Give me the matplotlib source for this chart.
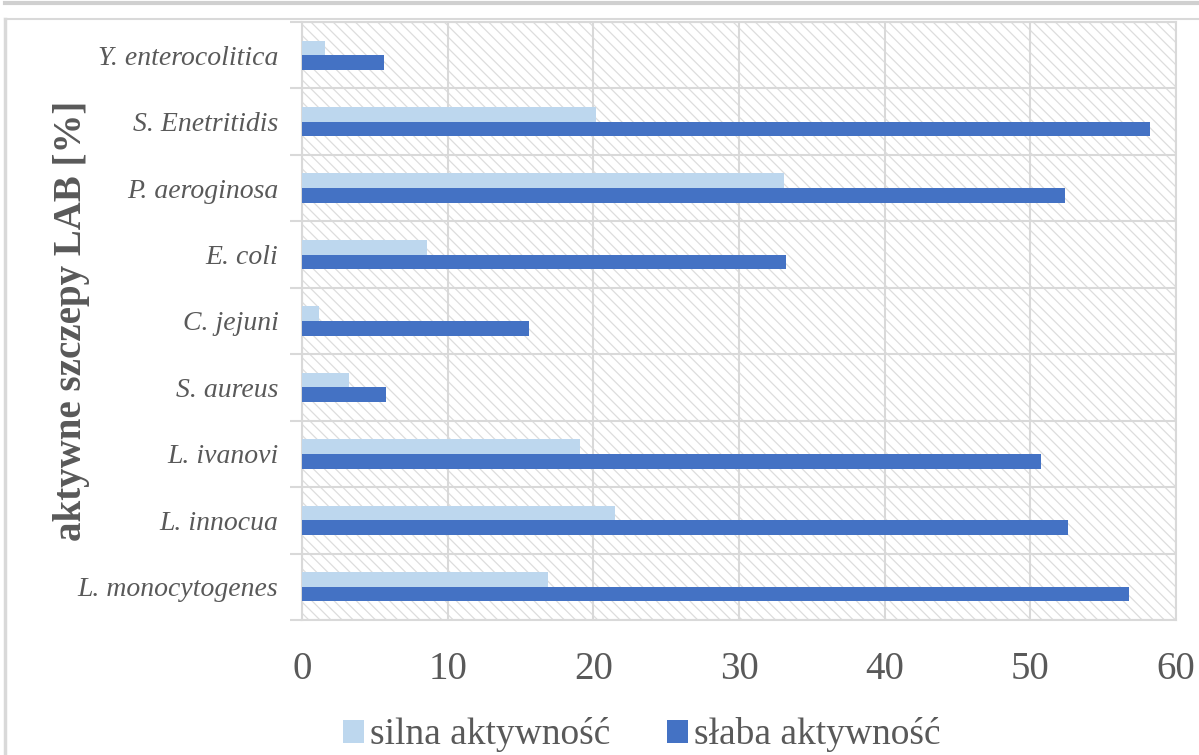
import matplotlib.pyplot as plt
from matplotlib.patches import Rectangle
from matplotlib.lines import Line2D
import numpy as np

# dane (od dolu do gory, jak w Excelu)
szczepy = ['L. monocytogenes', 'L. innocua', 'L. ivanovi', 'S. aureus', 'C. jejuni',
           'E. coli', 'P. aeroginosa', 'S. Enetritidis', 'Y. enterocolitica']
silna = [16.9, 21.5, 19.1, 3.2, 1.2, 8.6, 33.1, 20.2, 1.6]
slaba = [56.8, 52.6, 50.7, 5.8, 15.6, 33.2, 52.4, 58.2, 5.6]
os_x = [0, 10, 20, 30, 40, 50, 60]

jasny = '#BDD7EE'
ciemny = '#4472C4'
szary_tekst = '#595959'
siatka = '#D9D9D9'

plt.rcParams['font.family'] = 'serif'
plt.rcParams['font.serif'] = ['Liberation Serif', 'DejaVu Serif']
plt.rcParams['hatch.linewidth'] = 0.9

fig = plt.figure(figsize=(11.99, 7.55), dpi=100)
ax = fig.add_axes([302 / 1199, 135 / 755, 874 / 1199, 598 / 755])

# ramka wykresu
fig.add_artist(Line2D([0.004, 1.0], [752 / 755, 752 / 755], color='#D0D0D0', lw=3, transform=fig.transFigure))
fig.add_artist(Line2D([5 / 1199, 1.0], [736 / 755, 736 / 755], color='#D9D9D9', lw=1.5, transform=fig.transFigure))
fig.add_artist(Line2D([5 / 1199, 5 / 1199], [0, 736 / 755], color='#D9D9D9', lw=2.5, transform=fig.transFigure))

# tlo w paski
tlo = Rectangle((0, 0), 1, 1, transform=ax.transAxes, facecolor='white',
                edgecolor='#DDDDDD', hatch='\\\\\\', linewidth=0, zorder=0)
ax.add_patch(tlo)
ax.set_facecolor('none')

y = np.arange(len(szczepy))
h = 0.22
ax.barh(y + h / 2, silna, height=h, color=jasny, label='silna aktywność', zorder=3)
ax.barh(y - h / 2, slaba, height=h, color=ciemny, label='słaba aktywność', zorder=3)

ax.set_xlim(0, 60)
ax.set_ylim(-0.5, len(szczepy) - 0.5)
ax.set_xticks(os_x)
ax.set_yticks(y)
ax.set_yticklabels(szczepy, fontstyle='italic', fontsize=20, color=szary_tekst)
ax.set_yticks(np.arange(-0.5, len(szczepy), 1), minor=True)
ax.tick_params(axis='y', which='major', length=0, pad=17)
ax.tick_params(axis='y', which='minor', length=9, color=siatka, width=1.5)
ax.tick_params(axis='x', length=0, labelsize=28, labelcolor=szary_tekst, pad=22)

ax.grid(axis='x', color=siatka, lw=1.5, zorder=1)
ax.grid(axis='y', which='minor', color=siatka, lw=1.5, zorder=1)
for s in ax.spines.values():
    s.set_color(siatka)
    s.set_linewidth(1.5)

ax.set_ylabel('aktywne szczepy LAB [%]', fontsize=28, fontweight='bold', color=szary_tekst)
ax.yaxis.set_label_coords(-0.243, 0.5)

leg = fig.legend(loc='center', bbox_to_anchor=(0.5355, 20 / 755), ncol=2, frameon=False,
                 fontsize=27, labelcolor=szary_tekst, handlelength=0.55, handleheight=0.55,
                 handletextpad=0.18, columnspacing=1.5)

fig.savefig('out.png', dpi=100)
